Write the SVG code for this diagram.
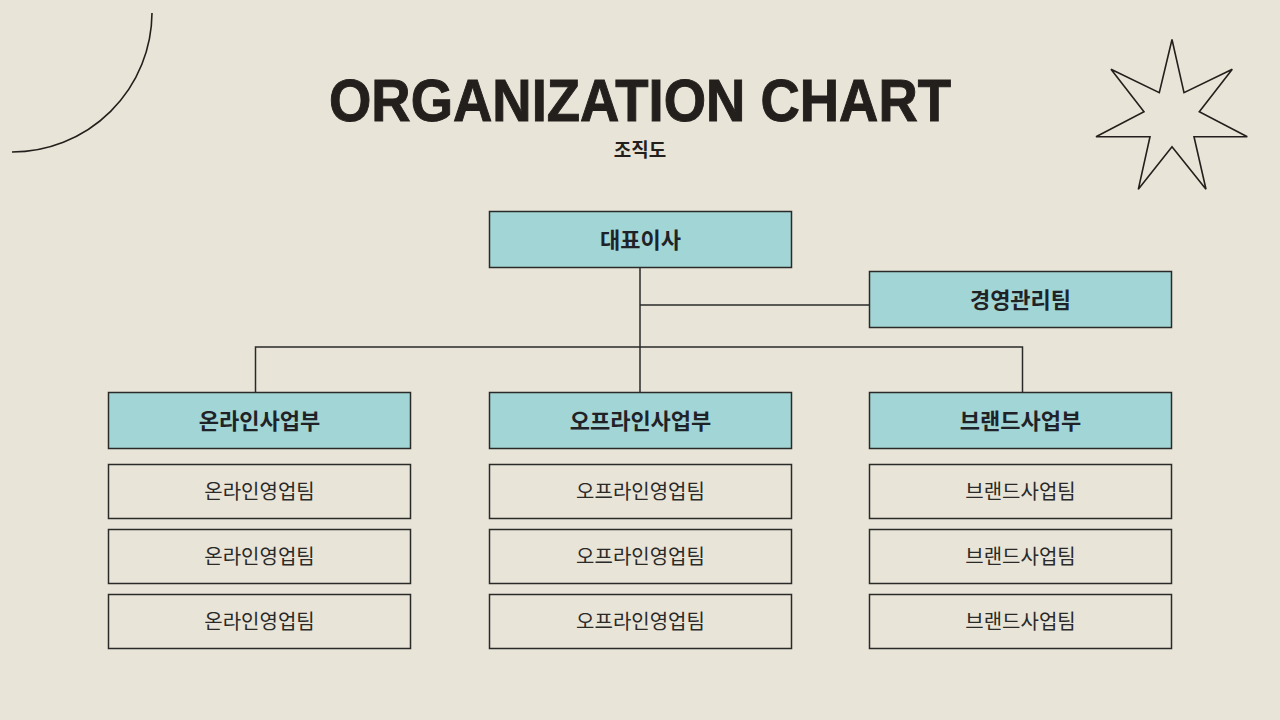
<svg xmlns="http://www.w3.org/2000/svg" width="1280" height="720" viewBox="0 0 1280 720">
<style>
.bg{fill:#e9e4d8}
.deco{fill:none;stroke:#231f1c;stroke-width:1.6}
.lead{fill:#a2d5d5;stroke:#2a2a28;stroke-width:1.5}
.team{fill:none;stroke:#2a2a28;stroke-width:1.5}
.conn{fill:none;stroke:#2a2a28;stroke-width:1.5}
.title{font-family:"Liberation Sans","Noto Sans",sans-serif;font-weight:bold;font-size:60px;fill:#231f1c;stroke:#231f1c;stroke-width:1}
.sub{font-family:"Noto Sans CJK KR",sans-serif;font-weight:bold;font-size:19px;fill:#231f1c}
.lt{font-family:"Noto Sans CJK KR",sans-serif;font-weight:bold;font-size:22px;fill:#1f2328;text-anchor:middle}
.tt{font-family:"Noto Sans CJK KR",sans-serif;font-size:20px;fill:#2a2a28;text-anchor:middle}
</style>
<rect class="bg" x="0" y="0" width="1280" height="720"/>
<path class="deco" d="M152,13 A140,140 0 0 1 12,152"/>
<polygon class="deco" points="1172,39.5 1184,92.7 1232.3,69.3 1199.3,111.7 1247.3,136.7 1194,136.7 1206,189.3 1172,146.7 1138.3,189.3 1150,136.7 1096,136.7 1144,111.7 1111,69.3 1159.3,92.7"/>
<text class="title" x="640" y="121" text-anchor="middle" textLength="622" lengthAdjust="spacingAndGlyphs">ORGANIZATION CHART</text>
<text class="sub" x="640" y="157" text-anchor="middle">조직도</text>
<g id="connectors">
<path class="conn" d="M640,268 V392"/>
<path class="conn" d="M640,305 H869"/>
<path class="conn" d="M255.5,392 V347 H1022.5 V392"/>
</g>
<g id="ceo"><rect class="lead" x="489.5" y="211.5" width="302" height="56"/><text class="lt" x="640.5" y="247.5">대표이사</text></g>
<g id="mgmt"><rect class="lead" x="869.5" y="271.5" width="302" height="56"/><text class="lt" x="1020.5" y="307.5">경영관리팀</text></g>
<g id="online"><rect class="lead" x="108.5" y="392.5" width="302" height="56"/><text class="lt" x="259.5" y="428.5">온라인사업부</text></g>
<g id="offline"><rect class="lead" x="489.5" y="392.5" width="302" height="56"/><text class="lt" x="640.5" y="428.5">오프라인사업부</text></g>
<g id="brand"><rect class="lead" x="869.5" y="392.5" width="302" height="56"/><text class="lt" x="1020.5" y="428.5">브랜드사업부</text></g>
<g id="online-1"><rect class="team" x="108.5" y="464.5" width="302" height="54"/><text class="tt" x="259.5" y="498.5">온라인영업팀</text></g>
<g id="online-2"><rect class="team" x="108.5" y="529.5" width="302" height="54"/><text class="tt" x="259.5" y="563.5">온라인영업팀</text></g>
<g id="online-3"><rect class="team" x="108.5" y="594.5" width="302" height="54"/><text class="tt" x="259.5" y="628.5">온라인영업팀</text></g>
<g id="offline-1"><rect class="team" x="489.5" y="464.5" width="302" height="54"/><text class="tt" x="640.5" y="498.5">오프라인영업팀</text></g>
<g id="offline-2"><rect class="team" x="489.5" y="529.5" width="302" height="54"/><text class="tt" x="640.5" y="563.5">오프라인영업팀</text></g>
<g id="offline-3"><rect class="team" x="489.5" y="594.5" width="302" height="54"/><text class="tt" x="640.5" y="628.5">오프라인영업팀</text></g>
<g id="brand-1"><rect class="team" x="869.5" y="464.5" width="302" height="54"/><text class="tt" x="1020.5" y="498.5">브랜드사업팀</text></g>
<g id="brand-2"><rect class="team" x="869.5" y="529.5" width="302" height="54"/><text class="tt" x="1020.5" y="563.5">브랜드사업팀</text></g>
<g id="brand-3"><rect class="team" x="869.5" y="594.5" width="302" height="54"/><text class="tt" x="1020.5" y="628.5">브랜드사업팀</text></g>
</svg>
